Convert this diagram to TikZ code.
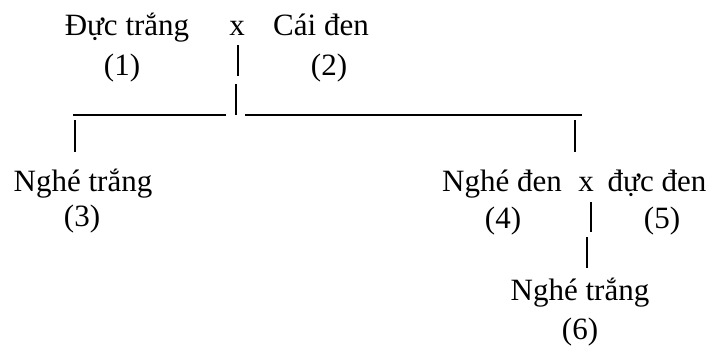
\documentclass[tikz,border=0pt]{standalone}
\usepackage{fontspec}
\setmainfont{Liberation Serif}
\begin{document}
\begin{tikzpicture}[x=1pt,y=-1pt,
  lbl/.style={anchor=base,inner sep=0pt,font=\fontsize{31}{31}\selectfont},
  bar/.style={line width=1.4pt}]
\useasboundingbox (0,0) rectangle (711,348);
% generation P
\node[lbl] (p1) at (127,35) {Đực trắng};
\node[lbl] (px) at (237,35) {x};
\node[lbl] (p2) at (321,35) {Cái đen};
\node[lbl] (n1) at (122,75) {(1)};
\node[lbl] (n2) at (329,75) {(2)};
% connectors
\coordinate (a1) at (238,45);
\coordinate (a2) at (238,76);
\coordinate (b1) at (236,84);
\coordinate (b2) at (236,115);
\coordinate (hl1) at (73,115);
\coordinate (hl2) at (226,115);
\coordinate (hr1) at (245,115);
\coordinate (hr2) at (582,115);
\coordinate (l1) at (75,120);
\coordinate (l2) at (75,152);
\coordinate (r1) at (575,120);
\coordinate (r2) at (575,152);
\draw[bar] (a1) -- (a2);
\draw[bar] (b1) -- (b2);
\draw[line width=1.2pt] (hl1) -- (hl2);
\draw[line width=1.2pt] (hr1) -- (hr2);
\draw[bar] (l1) -- (l2);
\draw[bar] (r1) -- (r2);
% generation F1
\node[lbl] (c3) at (83,191) {Nghé trắng};
\node[lbl] (n3) at (82,226) {(3)};
\node[lbl] (c4) at (502,191) {Nghé đen};
\node[lbl] (cx) at (586,191) {x};
\node[lbl] (c5) at (657,191) {đực đen};
\node[lbl] (n4) at (503,228) {(4)};
\node[lbl] (n5) at (662,228) {(5)};
\coordinate (d1) at (591,202);
\coordinate (d2) at (591,232);
\coordinate (e1) at (587,237);
\coordinate (e2) at (587,268);
\draw[bar] (d1) -- (d2);
\draw[bar] (e1) -- (e2);
% F2
\node[lbl] (c6) at (580,300) {Nghé trắng};
\node[lbl] (n6) at (580,339) {(6)};
\end{tikzpicture}
\end{document}
